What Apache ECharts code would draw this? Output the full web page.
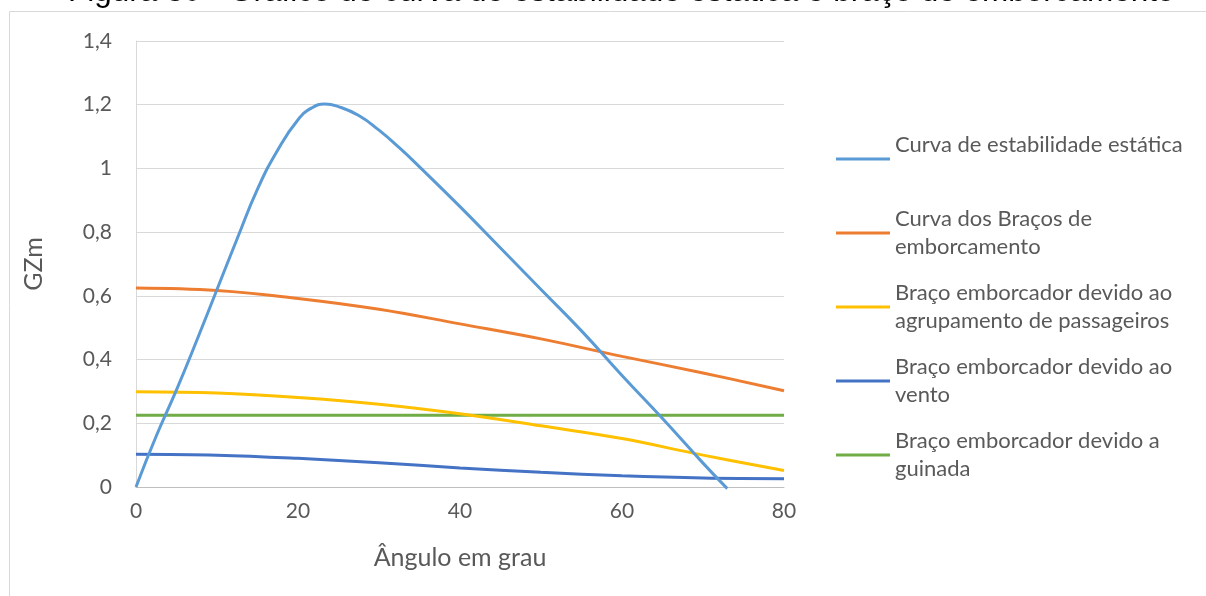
<!DOCTYPE html>
<html>
<head>
<meta charset="UTF-8">
<title>Curva de estabilidade estática</title>
<script src="https://cdn.jsdelivr.net/npm/echarts@6/dist/echarts.min.js"></script>
<style>
    html, body { margin: 0; padding: 0; background: #fff; }
    #main { width: 1206px; height: 596px; }
</style>
</head>
<body>
<div id="main"></div>
<script>
    // curva de estabilidade estatica
    var stabAngles = [0, 2.5, 5, 7.5, 10, 12.5, 15, 17.5, 20, 21.7, 23.3, 25, 27.5, 30, 32.5, 35, 40, 45, 50, 55, 60, 65, 70, 73];
    var stabValues = [0, 0.16, 0.305, 0.46, 0.62, 0.78, 0.935, 1.058, 1.153, 1.19, 1.202, 1.194, 1.166, 1.12, 1.065, 1.005, 0.88, 0.75, 0.62, 0.49, 0.35, 0.215, 0.075, -0.005];

    // bracos de emborcamento
    var angles = [0, 10, 20, 30, 40, 50, 60, 70, 80];
    var emborcValues = [0.625, 0.617, 0.592, 0.558, 0.512, 0.465, 0.41, 0.358, 0.302];
    var passValues = [0.299, 0.295, 0.281, 0.26, 0.23, 0.192, 0.152, 0.1, 0.052];
    var ventoValues = [0.103, 0.1, 0.09, 0.076, 0.06, 0.046, 0.035, 0.028, 0.026];
    var guinadaValues = [0.225, 0.225, 0.225, 0.225, 0.225, 0.225, 0.225, 0.225, 0.225];

    var seriesNames = [
        'Curva de estabilidade estática',
        'Curva dos Braços de emborcamento',
        'Braço emborcador devido ao agrupamento de passageiros',
        'Braço emborcador devido ao vento',
        'Braço emborcador devido a guinada'
    ];
    // quebras de linha como na legenda original
    var legendLabels = [
        'Curva de estabilidade estática\n ',
        'Curva dos Braços de\nemborcamento',
        'Braço emborcador devido ao\nagrupamento de passageiros',
        'Braço emborcador devido ao\nvento',
        'Braço emborcador devido a\nguinada'
    ];
    var colors = ['#5B9BD5', '#ED7D31', '#FFC000', '#4472C4', '#70AD47'];

    function pairs(xs, ys) {
        var out = [];
        for (var i = 0; i < xs.length; i++) out.push([xs[i], ys[i]]);
        return out;
    }

    var font = 'Lato';
    var myChart = echarts.init(document.getElementById('main'));

    var lineSeries = [
        pairs(stabAngles, stabValues),
        pairs(angles, emborcValues),
        pairs(angles, passValues),
        pairs(angles, ventoValues),
        pairs(angles, guinadaValues)
    ].map(function (d, i) {
        return {
            name: seriesNames[i],
            type: 'line',
            data: d,
            smooth: i === 0 ? 0.5 : 0.4,
            symbol: 'none',
            clip: i !== 0,
            lineStyle: { width: 3, color: colors[i] },
            itemStyle: { color: colors[i] },
            z: 10 - i
        };
    });

    myChart.setOption({
        animation: false,
        color: colors,
        title: {
            text: 'Figura 30 - Gráfico de curva de estabilidade estática e braço de emborcamento',
            left: 68,
            top: -24,
            padding: 0,
            textStyle: { fontFamily: 'Liberation Sans', fontSize: 31.5, fontWeight: 'normal', color: '#000' }
        },
        graphic: [{
            type: 'rect',
            shape: { x: 9.5, y: 11.5, width: 1300, height: 700 },
            style: { fill: 'none', stroke: '#d9d9d9', lineWidth: 1 },
            silent: true
        }],
        grid: { left: 136, right: 422, top: 41, bottom: 109 },
        legend: {
            orient: 'vertical',
            left: 836,
            top: 117,
            padding: 0,
            itemGap: -10,
            icon: 'rect',
            itemWidth: 54,
            itemHeight: 3,
            data: seriesNames,
            formatter: function (name) {
                return legendLabels[seriesNames.indexOf(name)];
            },
            textStyle: {
                fontFamily: font, fontSize: 22, color: '#595959',
                lineHeight: 28, padding: [28, 0, 0, 0]
            }
        },
        xAxis: {
            type: 'value',
            min: 0,
            max: 80,
            interval: 20,
            name: 'Ângulo em grau',
            nameLocation: 'middle',
            nameGap: 58,
            nameTextStyle: { fontFamily: font, fontSize: 25, color: '#595959' },
            axisLine: { show: true, onZero: false, lineStyle: { color: '#bfbfbf', width: 1 } },
            axisTick: { show: false },
            axisLabel: { fontFamily: font, fontSize: 21, color: '#595959', margin: 14 },
            splitLine: { show: false }
        },
        yAxis: {
            type: 'value',
            min: 0,
            max: 1.4,
            interval: 0.2,
            name: 'GZm',
            nameLocation: 'middle',
            nameGap: 90,
            nameTextStyle: { fontFamily: font, fontSize: 25, color: '#595959' },
            axisLine: { show: true, lineStyle: { color: '#d9d9d9', width: 1 } },
            axisTick: { show: false },
            axisLabel: {
                fontFamily: font, fontSize: 21, color: '#595959', margin: 24,
                formatter: function (v) { return String(Math.round(v * 10) / 10).replace('.', ','); }
            },
            splitLine: { lineStyle: { color: '#d9d9d9', width: 1 } }
        },
        series: lineSeries
    });
</script>
</body>
</html>
